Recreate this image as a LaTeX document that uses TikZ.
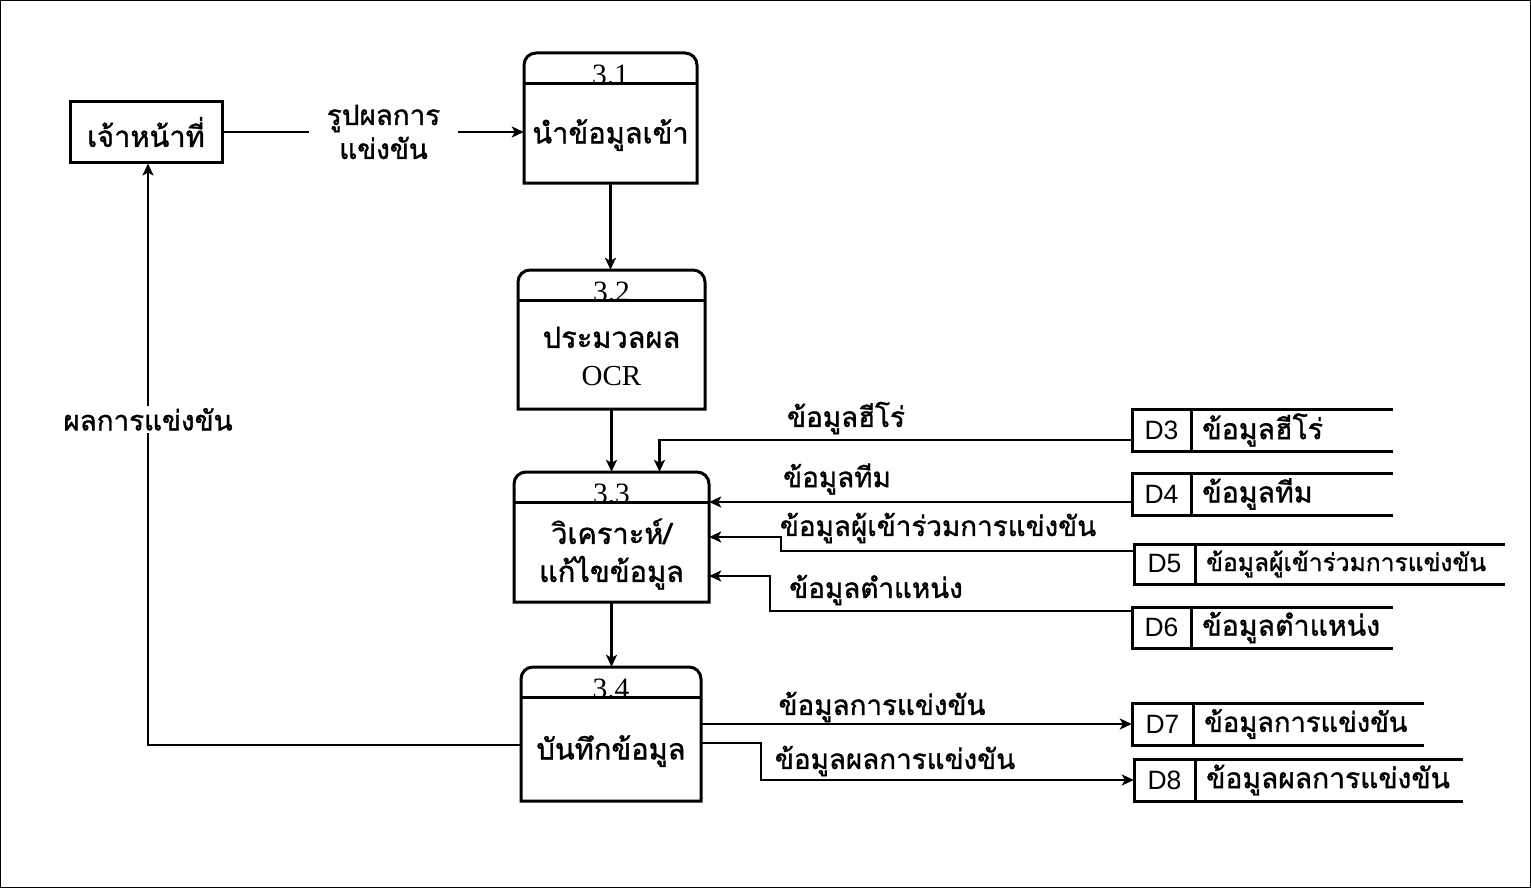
\documentclass[tikz,border=0pt]{standalone}
\usepackage{fontspec}
\setmainfont{Liberation Sans}
\newfontfamily\thai[Script=Thai,FakeBold=1.2]{Loma}
\newfontfamily\numf{Liberation Serif}
\usetikzlibrary{arrows.meta,calc}

% #1 name, #2 x1, #3 ytop, #4 x2, #5 ybot, #6 number, #7 text
\newcommand\procbox[7]{%
  \draw[boxln] (#2,-#5) -- (#2,-#3-12) arc[start angle=180,end angle=90,radius=12pt]
     -- (#4-12,-#3) arc[start angle=90,end angle=0,radius=12pt] -- (#4,-#5) -- cycle;
  \draw[boxln] (#2,-#3-30.5) -- (#4,-#3-30.5);
  \node[numtxt, anchor=base] (#1n) at ({(#2+#4)/2},-#3-31.5) {#6};
  \node[draw=none, inner sep=0pt, minimum width={#4pt-#2pt}, minimum height={#5pt-#3pt}] (#1) at ({(#2+#4)/2},{-(#3+#5)/2}) {};
  \node[thaitxt] (#1t) at ({(#2+#4)/2},{-(#3+34+#5)/2}) {#7};
}
% #1 name, #2 x1, #3 ytop, #4 x2, #5 ybot, #6 sep x, #7 id, #8 text
\newcommand\dstore[8]{%
  \node[draw=none, inner sep=0pt, minimum width={#4pt-#2pt}, minimum height={#5pt-#3pt}] (#1) at ({(#2+#4)/2},{-(#3+#5)/2}) {};
  \draw[boxln] (#4,-#3) -- (#2,-#3) -- (#2,-#5) -- (#4,-#5);
  \draw[boxln] (#6,-#3) -- (#6,-#5);
  \node[idtxt] (#1i) at ({(#2+#6)/2},{-(#3+#5)/2}) {#7};
  \node[anchor=west, inner sep=0pt] (#1t) at (#6+11,{-(#3+#5)/2}) {#8};
}

\begin{document}
\begin{tikzpicture}[x=1pt,y=1pt,
  boxln/.style={line width=3pt},
  flow/.style={line width=2.2pt,-{Stealth[length=12pt,width=11pt,inset=3pt]}},
  thaitxt/.style={font=\thai\fontsize{29}{38}\selectfont, align=center, inner sep=0pt},
  numtxt/.style={font=\numf\fontsize{29.5}{32}\selectfont, inner sep=0pt},
  idtxt/.style={font=\fontsize{26.5}{28}\selectfont, inner sep=0pt},
  lbl/.style={font=\thai\fontsize{27.8}{34}\selectfont, align=center, inner sep=0pt}]

\useasboundingbox (0,0) rectangle (1531,-888);
\draw[line width=1.2pt] (0.6,-0.6) rectangle (1530.4,-887.4);

% external entity
\node[draw, line width=3pt, minimum width=152pt, minimum height=60pt, inner sep=0pt,
      font=\thai\fontsize{29}{32}\selectfont] (ent) at (146,-132) {เจ้าหน้าที่};

% processes
\procbox{p1}{524}{53}{697}{183}{3.1}{นำข้อมูลเข้า}
\procbox{p2}{518}{270}{705}{409}{3.2}{ประมวลผล\\{\numf OCR}}
\procbox{p3}{514}{472}{709}{602}{3.3}{วิเคราะห์/\\แก้ไขข้อมูล}
\procbox{p4}{521}{667}{701}{801}{3.4}{บันทึกข้อมูล}

% data stores
\dstore{d3}{1132}{409}{1393}{451}{1191}{D3}{\thai\fontsize{28.5}{30}\selectfont ข้อมูลฮีโร่}
\dstore{d4}{1132}{473}{1393}{515}{1191}{D4}{\thai\fontsize{28.5}{30}\selectfont ข้อมูลทีม}
\dstore{d5}{1134}{544}{1505}{584}{1195}{D5}{\thai\fontsize{24.6}{28}\selectfont ข้อมูลผู้เข้าร่วมการแข่งขัน}
\dstore{d6}{1132}{607}{1393}{648}{1191}{D6}{\thai\fontsize{28.5}{30}\selectfont ข้อมูลตำแหน่ง}
\dstore{d7}{1132}{703}{1424}{745}{1193}{D7}{\thai\fontsize{27.3}{30}\selectfont ข้อมูลการแข่งขัน}
\dstore{d8}{1134}{759}{1463}{801}{1195}{D8}{\thai\fontsize{28.2}{30}\selectfont ข้อมูลผลการแข่งขัน}

% flows
\draw[flow] (ent.east) -- node[lbl, pos=0.533, fill=white, inner xsep=18pt, inner ysep=2pt] (l1) {รูปผลการ\\แข่งขัน} ([yshift=-14pt]p1.west);
\draw[flow] (p1.south) -- (p1.south |- p2.north);
\draw[flow] (p2.south) -- (p2.south |- p3.north);
\draw[flow] (p3.south) -- (p3.south |- p4.north);

\draw[flow] ([yshift=-10pt]d3.west) -| ([xshift=48pt]p3.north);
\draw[flow] ([yshift=-8pt]d4.west) -- ([yshift=35pt]p3.east);
\draw[flow] ([yshift=13pt]d5.west) -- ++(-353pt,0) |- (p3.east);
\draw[flow] ([yshift=16.5pt]d6.west) -- ++(-362pt,0) |- ([yshift=-39pt]p3.east);

\draw[flow] ([yshift=10pt]p4.east) -- (d7.west);
\draw[flow] ([yshift=-9pt]p4.east) -- ++(60pt,0) |- (d8.west);
\draw[flow] ([yshift=-11pt]p4.west) -| node[lbl, pos=0.78, fill=white, inner sep=2pt] (l2) {ผลการแข่งขัน} ([xshift=2pt]ent.south);

% flow labels
\node[lbl] (l3) at (846,-418) {ข้อมูลฮีโร่};
\node[lbl] (l4) at (837,-479) {ข้อมูลทีม};
\node[lbl] (l5) at (938,-528) {ข้อมูลผู้เข้าร่วมการแข่งขัน};
\node[lbl] (l6) at (876,-590) {ข้อมูลตำแหน่ง};
\node[lbl] (l7) at (882,-707) {ข้อมูลการแข่งขัน};
\node[lbl] (l8) at (895,-761) {ข้อมูลผลการแข่งขัน};
\end{tikzpicture}
\end{document}
